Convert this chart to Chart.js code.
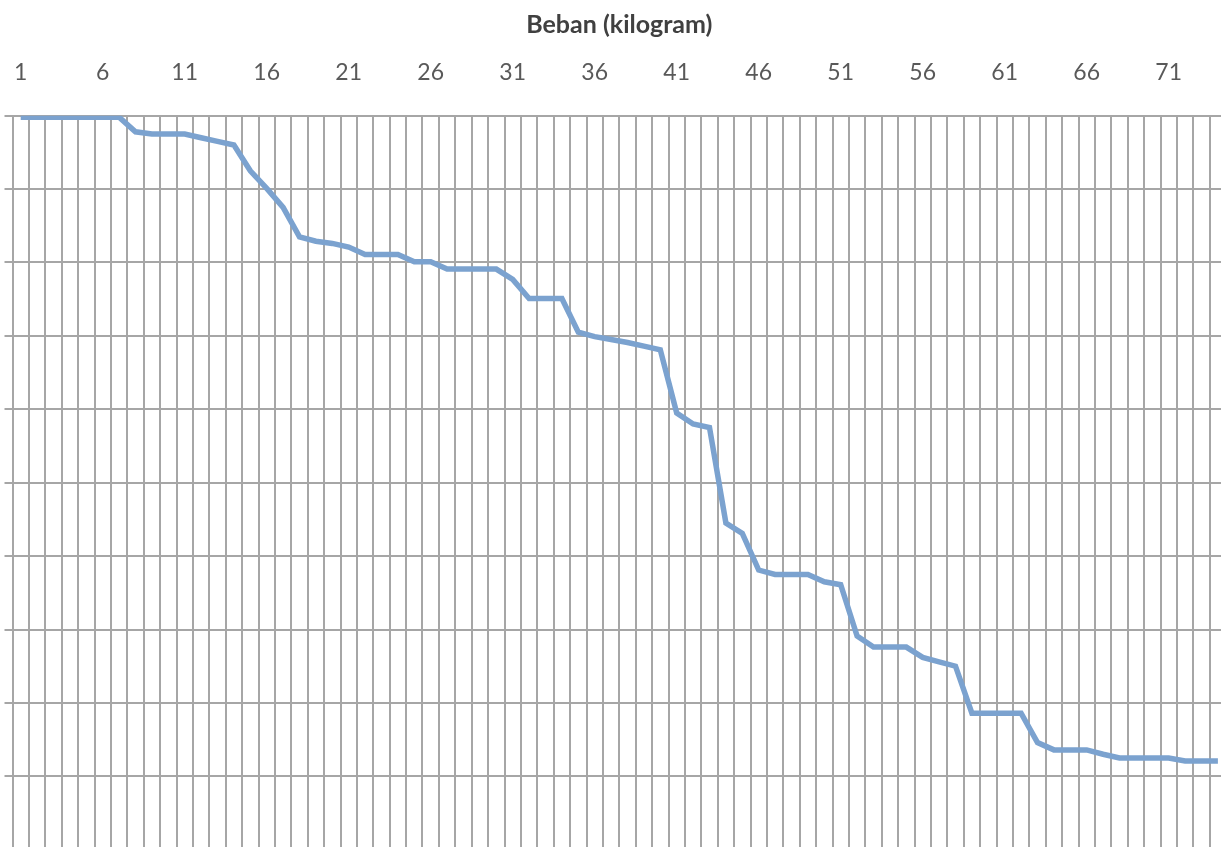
<!DOCTYPE html>
<html>
<head>
<meta charset="utf-8">
<title>Beban (kilogram)</title>
<script src="https://cdn.jsdelivr.net/npm/chart.js@4.4.0/dist/chart.umd.min.js"></script>
<style>
  body { margin: 0; overflow: hidden; background: #ffffff; }
  #wrap { width: 1240px; height: 870px; }
</style>
</head>
<body>
<div id="wrap"><canvas id="bebanChart" width="1240" height="870"></canvas></div>
<script>
// kategori beban 1..74
const categories = [
  "1", "2", "3", "4", "5", "6", "7", "8", "9", "10",
  "11", "12", "13", "14", "15", "16", "17", "18", "19", "20",
  "21", "22", "23", "24", "25", "26", "27", "28", "29", "30",
  "31", "32", "33", "34", "35", "36", "37", "38", "39", "40",
  "41", "42", "43", "44", "45", "46", "47", "48", "49", "50",
  "51", "52", "53", "54", "55", "56", "57", "58", "59", "60",
  "61", "62", "63", "64", "65", "66", "67", "68", "69", "70",
  "71", "72", "73", "74"
];

// label yang tampil di sumbu atas
const tickLabels = ["1", "6", "11", "16", "21", "26", "31", "36", "41", "46", "51", "56", "61", "66", "71"];

// nilai (satu satuan = satu garis grid)
const lendutan = [
  -0.02, -0.02, -0.02, -0.02, -0.02, -0.02, -0.02, -0.22, -0.25, -0.25,
  -0.25, -0.30, -0.35, -0.40, -0.75, -0.99, -1.25, -1.65, -1.71, -1.74,
  -1.79, -1.89, -1.89, -1.89, -1.99, -1.99, -2.09, -2.09, -2.09, -2.09,
  -2.23, -2.49, -2.49, -2.49, -2.95, -3.01, -3.05, -3.09, -3.14, -3.19,
  -4.05, -4.20, -4.25, -5.55, -5.69, -6.19, -6.25, -6.25, -6.25, -6.35,
  -6.39, -7.09, -7.24, -7.24, -7.24, -7.38, -7.44, -7.50, -8.14, -8.14,
  -8.14, -8.14, -8.54, -8.64, -8.64, -8.64, -8.70, -8.75, -8.75, -8.75,
  -8.75, -8.79, -8.79, -8.79
];

const yMin = -10;
const yMax = 0;
const yStep = 1;

const gridColor = '#a6a6a6';

const ctx = document.getElementById("bebanChart").getContext("2d");
new Chart(ctx, {
    type: 'line',
    data: {
        labels: categories,
        datasets: [{
            label: "Lendutan",
            data: lendutan,
            borderColor: '#7ba2cf',
            borderWidth: 5.5,
            pointRadius: 0,
            tension: 0,
            fill: false
        }]
    },
    options: {
        responsive: false,
        animation: false,
        layout: { padding: { left: 4.5, right: 13.9, top: 0, bottom: 20.3 } },
        plugins: {
            legend: { display: false },
            tooltip: { enabled: false }
        },
        scales: {
            x: {
                position: 'top',
                offset: true,
                grid: {
                    offset: true,
                    color: gridColor,
                    lineWidth: 2,
                    drawTicks: true,
                    tickLength: 26,
                    tickColor: 'rgba(0,0,0,0)'
                },
                border: { color: gridColor, width: 2 },
                ticks: {
                    autoSkip: false,
                    maxRotation: 0,
                    padding: 3,
                    color: '#595959',
                    font: { family: 'Lato', size: 23 },
                    callback: function (value) {
                        const lbl = categories[value];
                        return tickLabels.includes(lbl) ? lbl : '';
                    }
                },
                title: {
                    display: true,
                    text: 'Beban (kilogram)',
                    color: '#404040',
                    font: { family: 'Lato', size: 25, weight: 'bold' },
                    padding: { top: 10, bottom: 0 }
                },
                afterFit: function (scale) { scale.height = 115.7; }
            },
            y: {
                min: yMin,
                max: yMax,
                grid: { color: gridColor, lineWidth: 2, drawTicks: true, tickLength: 8 },
                border: { color: gridColor, width: 2 },
                ticks: { display: false, stepSize: yStep }
            }
        }
    }
});
</script>
</body>
</html>
